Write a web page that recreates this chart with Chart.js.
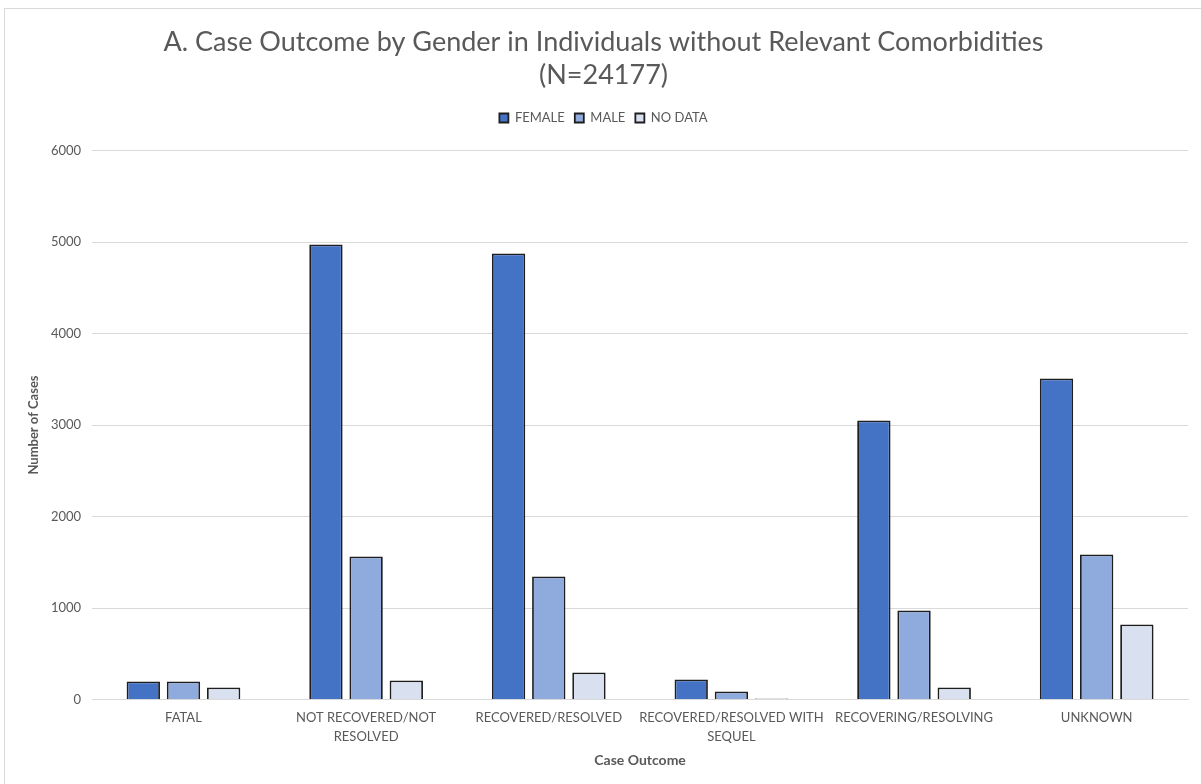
<!DOCTYPE html>
<html>
<head>
<meta charset="utf-8">
<script src="https://cdn.jsdelivr.net/npm/chart.js@4"></script>
<style>
  html, body { margin: 0; padding: 0; background: #fff; overflow: hidden; }
  #frame { position: absolute; left: 4px; top: 8px; width: 1300px; height: 900px; border: 1px solid #d9d9d9; }
  #cvs { position: absolute; left: 0; top: 0; }
</style>
</head>
<body>
<div id="frame"></div>
<canvas id="cvs" width="1201" height="784"></canvas>
<script>
//-------------------------------------------------------------------
// chart data
//-------------------------------------------------------------------
const outcomeLabels = [
  'FATAL',
  ['NOT RECOVERED/NOT', 'RESOLVED'],
  'RECOVERED/RESOLVED',
  ['RECOVERED/RESOLVED WITH', 'SEQUEL'],
  'RECOVERING/RESOLVING',
  'UNKNOWN'
];
const seriesNames = ['FEMALE', 'MALE', 'NO DATA'];
const femaleCases = [197, 4973, 4874, 219, 3049, 3508];
const maleCases = [197, 1563, 1344, 87, 973, 1585];
const noDataCases = [131, 208, 295, 11, 131, 820];
const yTicks = [0, 1000, 2000, 3000, 4000, 5000, 6000];

const seriesColors = ['#4472C4', '#8FAADC', '#D9E0F0'];
const textColor = '#595959';
const fontFamily = 'Lato, "Open Sans", sans-serif';

//-------------------------------------------------------------------
// helpers
//-------------------------------------------------------------------
function makeDataset(name, values, idx) {
  return {
    label: name,
    data: values,
    backgroundColor: seriesColors[idx],
    borderColor: '#1e1e1e',
    borderWidth: 1.8,
    borderSkipped: 'bottom',
    barPercentage: 0.83,
    categoryPercentage: 0.66
  };
}

// extra room between legend and plot area
const legendMargin = {
  id: 'legendMargin',
  beforeInit(chart) {
    const origFit = chart.legend.fit;
    chart.legend.fit = function() {
      origFit.bind(chart.legend)();
      this.height += 16;
    };
  }
};

//-------------------------------------------------------------------
// build chart
//-------------------------------------------------------------------
const ctx = document.getElementById('cvs').getContext('2d');

new Chart(ctx, {
  type: 'bar',
  data: {
    labels: outcomeLabels,
    datasets: [
      makeDataset(seriesNames[0], femaleCases, 0),
      makeDataset(seriesNames[1], maleCases, 1),
      makeDataset(seriesNames[2], noDataCases, 2)
    ]
  },
  plugins: [legendMargin],
  options: {
    responsive: false,
    animation: false,
    layout: {
      padding: { left: 19, right: 13, top: 25, bottom: 6 }
    },
    scales: {
      x: {
        grid: { display: false, drawTicks: false },
        border: { display: true, color: '#d9d9d9', width: 1 },
        ticks: {
          color: textColor,
          font: { family: fontFamily, size: 13, lineHeight: 1.45 },
          maxRotation: 0,
          autoSkip: false,
          padding: 9
        },
        title: {
          display: true,
          text: 'Case Outcome',
          color: textColor,
          font: { family: fontFamily, size: 14, weight: 'bold' },
          padding: { top: -3, bottom: 9 }
        }
      },
      y: {
        min: 0,
        max: 6000,
        afterBuildTicks: (axis) => { axis.ticks = yTicks.map(v => ({ value: v })); },
        grid: { color: '#d9d9d9', drawTicks: false },
        border: { display: false },
        ticks: {
          color: textColor,
          font: { family: fontFamily, size: 13 },
          padding: 11,
          callback: (val) => String(val)
        },
        title: {
          display: true,
          text: 'Number of Cases',
          color: textColor,
          font: { family: fontFamily, size: 13, weight: 'bold', lineHeight: 1.0 },
          padding: { top: 8, bottom: 0 }
        }
      }
    },
    plugins: {
      title: {
        display: true,
        text: ['A. Case Outcome by Gender in Individuals without Relevant Comorbidities', '(N=24177)'],
        color: textColor,
        font: { family: fontFamily, size: 27, weight: 'normal', lineHeight: 1.25 },
        padding: { top: 0, bottom: 9 }
      },
      legend: {
        display: true,
        labels: {
          color: textColor,
          font: { family: fontFamily, size: 13 },
          boxWidth: 9,
          boxHeight: 9,
          padding: 10
        }
      },
      tooltip: { enabled: false }
    }
  }
});
</script>
</body>
</html>
